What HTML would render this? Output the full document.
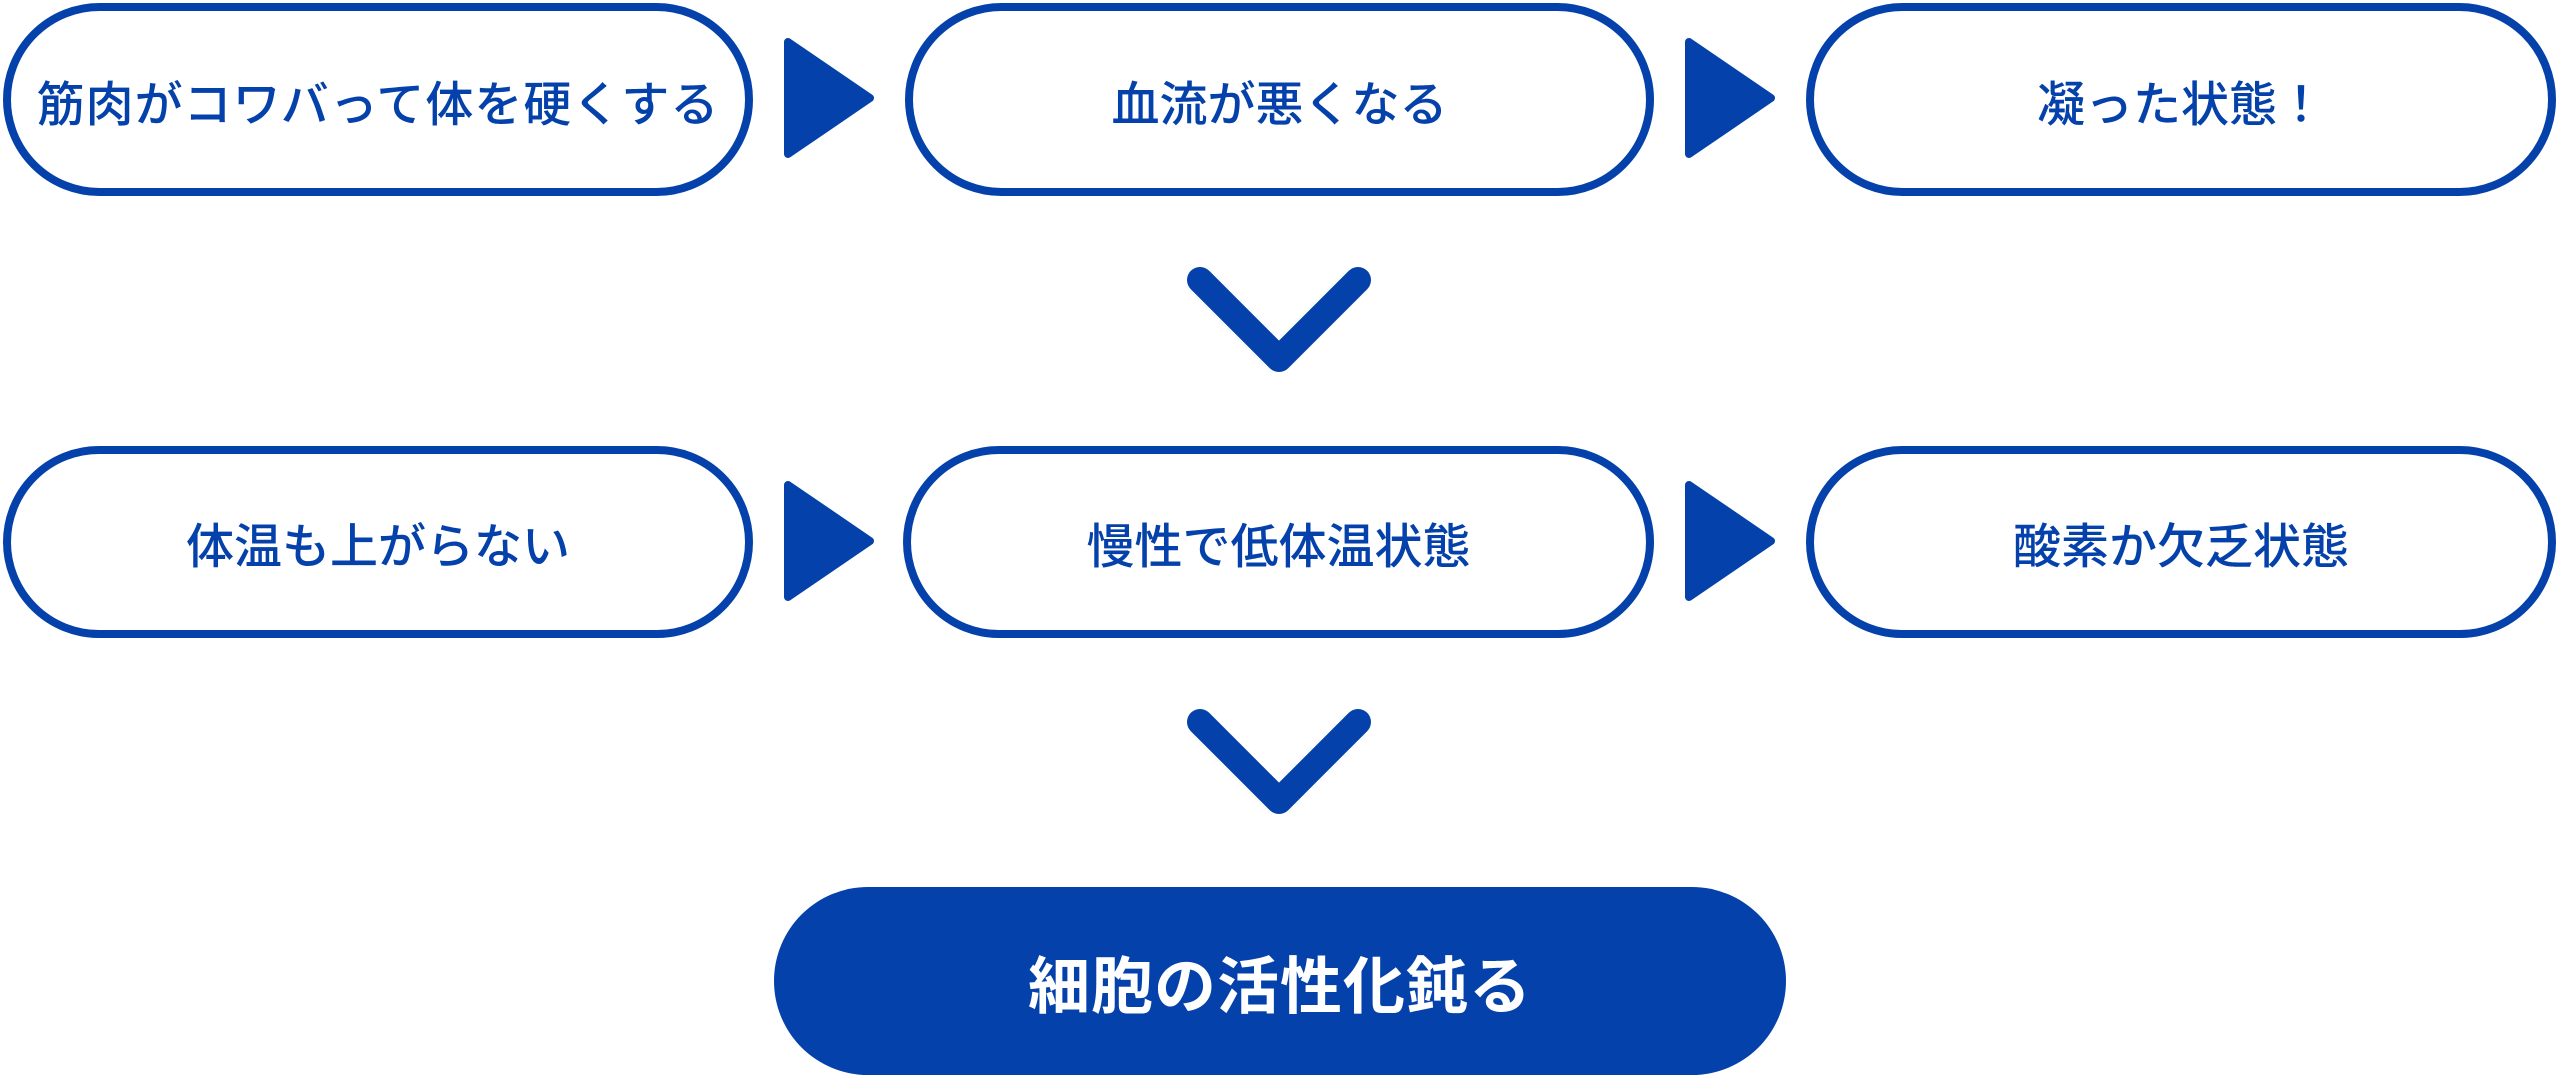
<!DOCTYPE html>
<html><head><meta charset="utf-8"><style>
html,body{margin:0;padding:0;background:#fff;overflow:hidden;}
body{width:2560px;height:1075px;position:relative;overflow:hidden;font-family:"Liberation Sans","Noto Sans CJK JP",sans-serif;}
.b{position:absolute;box-sizing:border-box;border:8px solid #0441aa;border-radius:100px;background:#fff;color:#0441aa;display:flex;align-items:center;justify-content:center;font-size:48px;font-weight:500;white-space:nowrap;}
.f{position:absolute;left:774px;top:887px;width:1012px;height:188px;background:#0441aa;border-radius:94px;color:#fff;display:flex;align-items:center;justify-content:center;font-size:62px;font-weight:bold;box-sizing:border-box;letter-spacing:1px;}
svg{position:absolute;left:0;top:0;}
</style></head><body>
<div class="b" style="left:3px;top:3px;width:750px;height:193px;letter-spacing:1px;">筋肉がコワバって体を硬くする</div>
<div class="b" style="left:905px;top:3px;width:749px;height:193px;">血流が悪くなる</div>
<div class="b" style="left:1806px;top:3px;width:750px;height:193px;">凝った状態！</div>
<div class="b" style="left:3px;top:446px;width:750px;height:192px;">体温も上がらない</div>
<div class="b" style="left:903px;top:446px;width:751px;height:192px;">慢性で低体温状態</div>
<div class="b" style="left:1806px;top:446px;width:750px;height:192px;">酸素か欠乏状態</div>
<div class="f">細胞の活性化鈍る</div>
<svg width="2560" height="1075">
<g fill="#0441aa" stroke="#0441aa" stroke-width="8" stroke-linejoin="round">
<polygon points="788,42 870,98 788,154"/>
<polygon points="1689,42 1771,98 1689,154"/>
<polygon points="788,485 870,541 788,597"/>
<polygon points="1689,485 1771,541 1689,597"/>
</g>
<g fill="none" stroke="#0441aa" stroke-width="26" stroke-linecap="round" stroke-linejoin="round">
<polyline points="1200,280 1279,359 1358,280"/>
<polyline points="1200,722 1279,801 1358,722"/>
</g>
</svg>
</body></html>
